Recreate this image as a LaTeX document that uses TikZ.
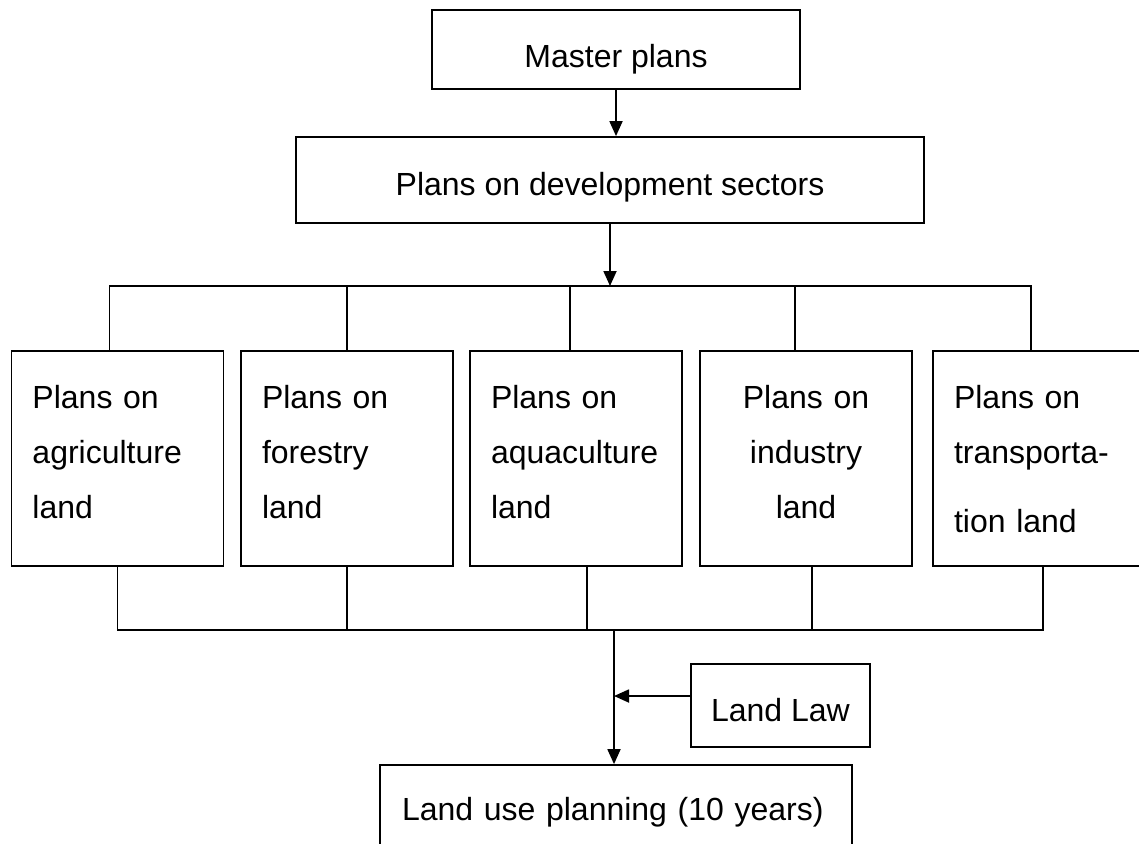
\documentclass[tikz,border=0pt]{standalone}
\usepackage{fontspec}
\setmainfont{Liberation Sans}
\usetikzlibrary{arrows.meta,positioning}

\begin{document}
\begin{tikzpicture}[x=0.5pt, y=-0.5pt,
  box/.style={draw, line width=0.9pt, font={\fontsize{16pt}{27.5pt}\selectfont}},
  landbox/.style={box, minimum width=106pt, minimum height=107.5pt, text width=85pt, inner xsep=10.5pt, align=left, text height=12pt, text depth=62.5pt},
  line/.style={line width=0.9pt},
  arrow/.style={line, -{Triangle[length=7.5pt,width=6.5pt]}}
]
\useasboundingbox (0,0) rectangle (1139,843);

\node[box, minimum width=184pt, minimum height=39.5pt, text height=17.5pt, text depth=0pt] (master) at (616,49.5) {Master plans};
\node[box, minimum width=314pt, minimum height=43pt, text height=15pt, text depth=0pt] (dev) at (610,180) {Plans on development sectors};

\node[landbox] (agri) at (117.5,458.5) {Plans on\\agriculture\\land};
\node[landbox] (fore) at (347,458.5) {Plans on\\forestry\\land};
\node[landbox] (aqua) at (576,458.5) {Plans on\\aquaculture\\land};
\node[landbox, align=center] (indu) at (806,458.5) {Plans on\\industry\\land};
\node[landbox] (tran) at (1039,458.5) {Plans on\\transporta-\\[7pt]tion land};

\node[box, minimum width=89.5pt, minimum height=41.5pt, text height=15.5pt, text depth=0pt] (law) at (780.5,705.5) {Land Law};
\node[box, minimum width=236pt, minimum height=55pt, text width=214pt, inner xsep=11pt, align=left, text height=8pt, text depth=8pt] (land) at (616,820) {Land use planning (10 years)};

\coordinate (busin) at (0,286);
\coordinate (busout) at (0,630);
\coordinate (busdown) at (614,630);
\coordinate (lawin) at (614,696);

\draw[arrow] (master.south) -- (master.south |- dev.north);
\draw[arrow] (dev.south) -- (dev.south |- busin);

% top bus
\draw[line] ([xshift=-4pt]agri.north) |- ([xshift=-4pt]tran.north |- busin) -- ([xshift=-4pt]tran.north);
\draw[line] (fore.north) -- (fore.north |- busin);
\draw[line] ([xshift=-3pt]aqua.north) -- ([xshift=-3pt]aqua.north |- busin);
\draw[line] ([xshift=-5.5pt]indu.north) -- ([xshift=-5.5pt]indu.north |- busin);

% bottom bus
\draw[line] (agri.south) |- ([xshift=2pt]tran.south |- busout) -- ([xshift=2pt]tran.south);
\draw[line] (fore.south) -- (fore.south |- busout);
\draw[line] ([xshift=5.5pt]aqua.south) -- ([xshift=5.5pt]aqua.south |- busout);
\draw[line] ([xshift=3pt]indu.south) -- ([xshift=3pt]indu.south |- busout);

\draw[arrow] (busdown) -- (busdown |- land.north);
\draw[arrow] (law.west |- lawin) -- (lawin);
\end{tikzpicture}
\end{document}
